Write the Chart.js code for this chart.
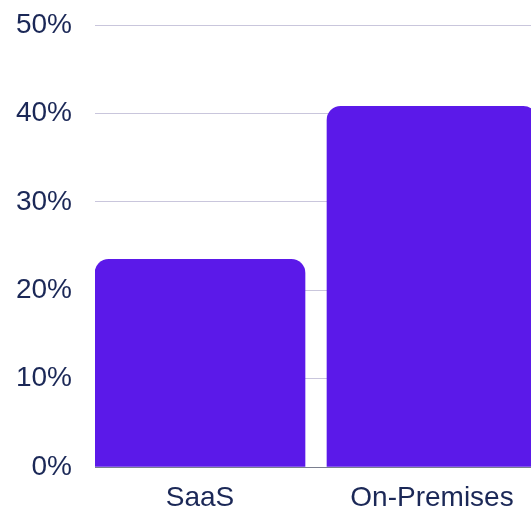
<!DOCTYPE html>
<html>
<head>
<meta charset="utf-8">
<script src="https://cdn.jsdelivr.net/npm/chart.js@4/dist/chart.umd.min.js"></script>
<style>
  html, body { margin: 0; padding: 0; background: #ffffff; overflow: hidden; }
  #wrap { width: 531px; height: 509px; position: relative; }
</style>
</head>
<body>
<div id="wrap"><canvas id="c"></canvas></div>
<script>
const categories = ['SaaS', 'On-Premises'];
const shares = [23.5, 40.8];
const yTicks = [0, 10, 20, 30, 40, 50];

const textColor = '#1b2857';
const barColor = '#5b19e9';

new Chart(document.getElementById('c'), {
  type: 'bar',
  data: {
    datasets: [{
      data: shares.map((v, i) => ({ x: i, y: v })),
      backgroundColor: barColor,
      borderRadius: 14,
      borderSkipped: 'start',
      barThickness: 210
    }]
  },
  options: {
    responsive: true,
    maintainAspectRatio: false,
    animation: false,
    layout: { padding: { left: 16, top: 25, right: 0, bottom: 0 } },
    plugins: { legend: { display: false }, tooltip: { enabled: false } },
    scales: {
      x: {
        type: 'linear',
        offset: false,
        min: -0.4526,
        max: 1.4267,
        afterBuildTicks: (s) => { s.ticks = categories.map((_, i) => ({ value: i })); },
        afterFit: (s) => { s.height = 42; s.paddingLeft = 0; s.paddingRight = 0; },
        grid: { display: false, drawTicks: false, offset: false },
        border: { display: true, color: '#7a7f8f', width: 1 },
        ticks: {
          padding: 14,
          color: textColor,
          font: { family: 'Liberation Sans', size: 28 },
          callback: (v) => categories[v]
        }
      },
      y: {
        min: 0,
        max: 50,
        afterBuildTicks: (s) => { s.ticks = yTicks.map(v => ({ value: v })); },
        afterFit: (s) => { s.width = 79; s.paddingTop = 0; s.paddingBottom = 0; },
        grid: { color: '#c9c6dc', lineWidth: 1, drawTicks: false },
        border: { display: false },
        ticks: {
          padding: 23,
          color: textColor,
          font: { family: 'Liberation Sans', size: 28 },
          callback: (v) => v + '%'
        }
      }
    }
  }
});
</script>
</body>
</html>
